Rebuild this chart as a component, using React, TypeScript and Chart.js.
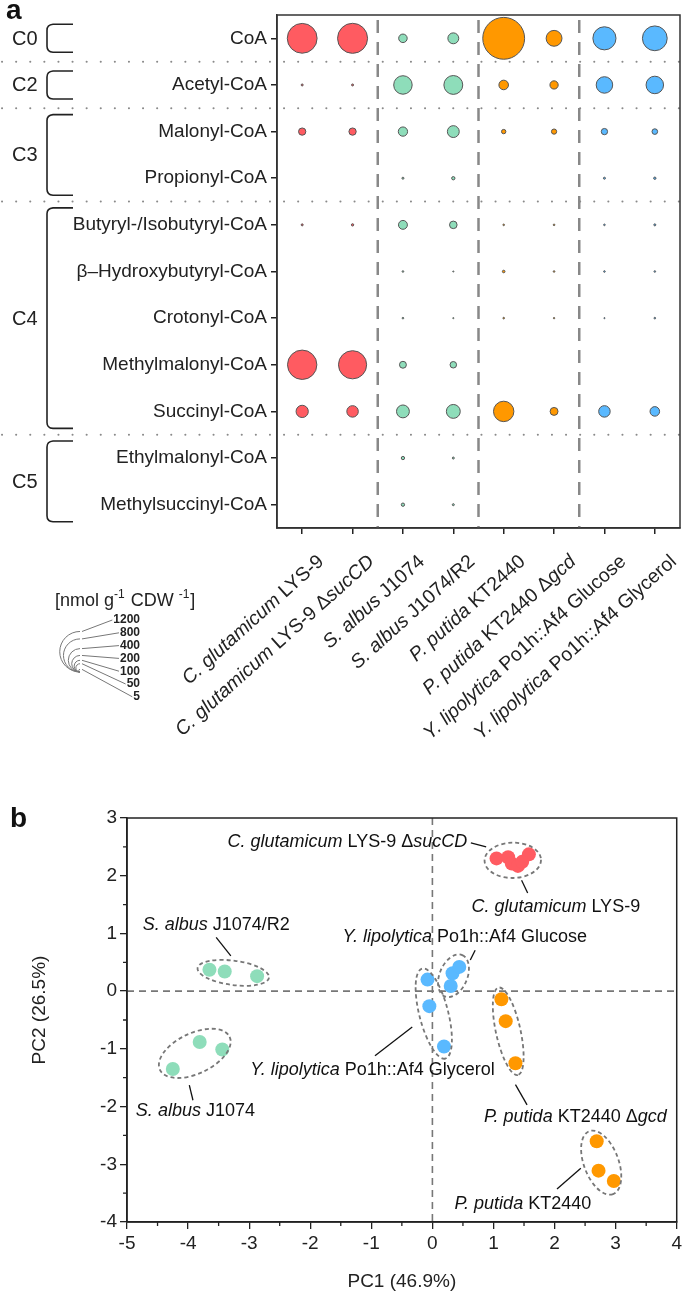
import React, { useEffect, useRef } from "react";
import { Chart, registerables } from "chart.js";
Chart.register(...registerables);

const FONT = "'Liberation Sans', Arial, sans-serif";

// ---------- Panel a data ----------
const metabolites = [
  "CoA",
  "Acetyl-CoA",
  "Malonyl-CoA",
  "Propionyl-CoA",
  "Butyryl-/Isobutyryl-CoA",
  "β–Hydroxybutyryl-CoA",
  "Crotonyl-CoA",
  "Methylmalonyl-CoA",
  "Succinyl-CoA",
  "Ethylmalonyl-CoA",
  "Methylsuccinyl-CoA",
];

const strains = [
  "C. glutamicum LYS-9",
  "C. glutamicum LYS-9 ΔsucCD",
  "S. albus J1074",
  "S. albus J1074/R2",
  "P. putida KT2440",
  "P. putida KT2440 Δgcd",
  "Y. lipolytica Po1h::Af4 Glucose",
  "Y. lipolytica Po1h::Af4 Glycerol",
];

// nmol g-1 CDW-1, in metabolite order
const cgLys9 = [650, 3, 39, 0, 3, 0, 0, 630, 110, 0, 0];
const cgLys9SucCD = [660, 3, 39, 0, 4, 0, 0, 580, 97, 0, 0];
const saJ1074 = [53, 250, 63, 3, 58, 2, 2, 35, 121, 8, 8];
const saJ1074R2 = [87, 260, 103, 8, 42, 1, 1, 31, 141, 3, 3];
const ppKT2440 = [1280, 67, 14, 0, 2, 5, 2, 0, 305, 0, 0];
const ppKT2440Gcd = [184, 50, 20, 0, 2, 2, 1.5, 0, 46, 0, 0];
const ylGlucose = [391, 199, 29, 3, 2, 2, 1, 0, 97, 0, 0];
const ylGlycerol = [449, 224, 23, 4, 3, 2, 2, 0, 67, 0, 0];
const strainValues = [cgLys9, cgLys9SucCD, saJ1074, saJ1074R2, ppKT2440, ppKT2440Gcd, ylGlucose, ylGlycerol];

const groupNames = ["C0", "C2", "C3", "C4", "C5"];
const groupFirst = [0, 1, 2, 4, 9];
const groupLast = [0, 1, 3, 8, 10];
const speciesBreaks = [1, 3, 5]; // dashed line after these strain indices

const sizeLegendValues = [1200, 800, 400, 200, 100, 50, 5];

// ---------- Panel b data ----------
const pc1CgLys9 = [1.3, 1.4, 1.47];
const pc2CgLys9 = [2.21, 2.17, 2.24];
const pc1CgSucCD = [1.05, 1.24, 1.58];
const pc2CgSucCD = [2.3, 2.32, 2.37];
const pc1SaJ1074 = [-4.25, -3.81, -3.44];
const pc2SaJ1074 = [-1.35, -0.88, -1.01];
const pc1SaR2 = [-3.65, -3.4, -2.87];
const pc2SaR2 = [0.37, 0.34, 0.26];
const pc1PpKT = [2.69, 2.72, 2.97];
const pc2PpKT = [-2.6, -3.11, -3.29];
const pc1PpGcd = [1.13, 1.2, 1.36];
const pc2PpGcd = [-0.14, -0.52, -1.25];
const pc1YlGlc = [0.3, 0.33, 0.44];
const pc2YlGlc = [0.09, 0.31, 0.42];
const pc1YlGly = [-0.08, -0.05, 0.19];
const pc2YlGly = [0.2, -0.26, -0.96];
const pc1 = [pc1CgLys9, pc1CgSucCD, pc1SaJ1074, pc1SaR2, pc1PpKT, pc1PpGcd, pc1YlGlc, pc1YlGly];
const pc2 = [pc2CgLys9, pc2CgSucCD, pc2SaJ1074, pc2SaR2, pc2PpKT, pc2PpGcd, pc2YlGlc, pc2YlGly];

const RED = "#FF5B61";
const GREEN = "#8EDDBA";
const ORANGE = "#FF9800";
const BLUE = "#5AB9FF";
const strainColors = [RED, RED, GREEN, GREEN, ORANGE, ORANGE, BLUE, BLUE];

// clusters circled in panel b (strain indices)
const clusters = [[0, 1], [2], [3], [4], [5], [6], [7]];

// label annotations for panel b (data units)
const pcaNotes = [
  { strain: 1, x: 0.57, y: 2.58, align: "right", line: [[0.63, 2.57], [0.88, 2.5]] },
  { strain: 0, x: 2.02, y: 1.45, align: "center", line: [[1.46, 1.92], [1.56, 1.7]] },
  { strain: 3, x: -3.54, y: 1.15, align: "center", line: [[-3.54, 0.93], [-3.3, 0.61]] },
  { strain: 6, x: 0.53, y: 0.94, align: "center", line: [[0.7, 0.71], [0.62, 0.54]] },
  { strain: 7, x: -0.98, y: -1.37, align: "center", line: [[-0.94, -1.12], [-0.33, -0.62]] },
  { strain: 2, x: -3.88, y: -2.08, align: "center", line: [[-3.98, -1.63], [-3.92, -1.89]] },
  { strain: 5, x: 2.34, y: -2.18, align: "center", line: [[1.36, -1.62], [1.55, -1.97]] },
  { strain: 4, x: 1.48, y: -3.68, align: "center", line: [[2.04, -3.43], [2.43, -3.07]] },
];

const radiusOf = (v: number) => 0.585 * Math.sqrt(v);

function segmentsOf(name: string): [string, boolean][] {
  const words = name.split(" ");
  const species = words.slice(0, 2).join(" ");
  const rest = " " + words.slice(2).join(" ");
  const segs: [string, boolean][] = [[species, true]];
  const d = rest.indexOf("Δ");
  if (d >= 0) {
    segs.push([rest.slice(0, d + 1), false]);
    segs.push([rest.slice(d + 1), true]);
  } else {
    segs.push([rest, false]);
  }
  return segs;
}

function drawSegs(ctx: CanvasRenderingContext2D, segs: [string, boolean][], x: number, y: number, size: number, align: string) {
  const widths = segs.map(([t, it]) => {
    ctx.font = `${it ? "italic " : ""}${size}px ${FONT}`;
    return ctx.measureText(t).width;
  });
  const total = widths.reduce((a, b) => a + b, 0);
  let cx = align === "right" ? x - total : align === "center" ? x - total / 2 : x;
  ctx.textAlign = "left";
  segs.forEach(([t, it], i) => {
    ctx.font = `${it ? "italic " : ""}${size}px ${FONT}`;
    ctx.fillText(t, cx, y);
    cx += widths[i];
  });
}

const plugA = {
  id: "panelA",
  beforeDatasetsDraw(chart: any) {
    const { ctx, chartArea: ca, scales } = chart;
    const y = scales.y;
    const x = scales.x;
    ctx.save();
    ctx.strokeStyle = "#8a8a8a";
    ctx.lineWidth = 2;
    ctx.lineCap = "round";
    ctx.setLineDash([0.1, 14]);
    for (let g = 0; g < groupLast.length - 1; g++) {
      const py = (y.getPixelForValue(groupLast[g]) + y.getPixelForValue(groupLast[g] + 1)) / 2;
      ctx.beginPath();
      ctx.moveTo(2, py);
      ctx.lineTo(ca.right, py);
      ctx.stroke();
    }
    ctx.lineCap = "butt";
    ctx.strokeStyle = "#888";
    ctx.lineWidth = 2.5;
    ctx.setLineDash([13, 9]);
    speciesBreaks.forEach((b) => {
      const px = (x.getPixelForValue(b) + x.getPixelForValue(b + 1)) / 2;
      ctx.beginPath();
      ctx.moveTo(px, ca.top + 5);
      ctx.lineTo(px, ca.bottom);
      ctx.stroke();
    });
    ctx.restore();
  },
  afterDraw(chart: any) {
    const { ctx, chartArea: ca, scales } = chart;
    const y = scales.y;
    const x = scales.x;
    ctx.save();
    ctx.setLineDash([]);
    ctx.strokeStyle = "#333";
    ctx.lineWidth = 1.5;
    ctx.strokeRect(ca.left, ca.top, ca.right - ca.left, ca.bottom - ca.top);

    ctx.fillStyle = "#111";
    ctx.textBaseline = "alphabetic";
    ctx.font = `bold 28px ${FONT}`;
    ctx.textAlign = "left";
    ctx.fillText("a", 6, 19);

    // group labels + brackets
    ctx.fillStyle = "#222";
    ctx.strokeStyle = "#222";
    ctx.lineWidth = 1.6;
    ctx.font = `20px ${FONT}`;
    ctx.textBaseline = "middle";
    groupNames.forEach((n, g) => {
      const p1 = y.getPixelForValue(groupFirst[g]);
      const p2 = y.getPixelForValue(groupLast[g]);
      const multi = groupLast[g] > groupFirst[g];
      const t = p1 - (multi ? 17 : 14);
      const b = p2 + (multi ? 17 : 14);
      ctx.fillText(n, 12, (p1 + p2) / 2 + 1);
      ctx.beginPath();
      ctx.moveTo(73, t);
      ctx.lineTo(53, t);
      ctx.quadraticCurveTo(47, t + 0.5, 47, t + 6);
      ctx.lineTo(47, b - 6);
      ctx.quadraticCurveTo(47, b - 0.5, 53, b);
      ctx.lineTo(73, b);
      ctx.stroke();
    });

    // rotated strain labels
    ctx.fillStyle = "#222";
    ctx.textBaseline = "middle";
    strains.forEach((s, i) => {
      const px = x.getPixelForValue(i);
      ctx.save();
      ctx.translate(px + 19, ca.bottom + 31);
      ctx.rotate((-42 * Math.PI) / 180);
      drawSegs(ctx, segmentsOf(s), 0, 0, 19.5, "right");
      ctx.restore();
    });

    // size legend
    ctx.textBaseline = "alphabetic";
    ctx.fillStyle = "#222";
    const lx = 55;
    const ly = 606;
    let cx = lx;
    const parts: [string, boolean][] = [["[nmol g", false], ["-1", true], [" CDW ", false], ["-1", true], ["]", false]];
    parts.forEach(([t, sup]) => {
      ctx.font = sup ? `12px ${FONT}` : `18px ${FONT}`;
      ctx.fillText(t, cx, sup ? ly - 8 : ly);
      cx += ctx.measureText(t).width + (sup ? 1 : 0);
    });
    const ccx = 80;
    const cby = 672;
    ctx.strokeStyle = "#777";
    ctx.lineWidth = 1;
    ctx.font = `bold 12px ${FONT}`;
    ctx.textBaseline = "middle";
    ctx.textAlign = "right";
    sizeLegendValues.forEach((v, i) => {
      const r = radiusOf(v);
      ctx.beginPath();
      ctx.arc(ccx, cby - r, r, -Math.PI / 2, Math.PI / 2, true);
      ctx.stroke();
      const tyy = 620 + i * 12.8;
      const label = String(v);
      const w = ctx.measureText(label).width;
      ctx.beginPath();
      ctx.moveTo(ccx + 2, cby - 2 * r);
      ctx.lineTo(140 - w - 1, tyy);
      ctx.stroke();
      ctx.fillStyle = "#222";
      ctx.fillText(label, 140, tyy);
    });
    ctx.restore();
  },
};

function ellipseFor(points: { x: number; y: number }[], pad: number) {
  const n = points.length;
  const mx = points.reduce((a, p) => a + p.x, 0) / n;
  const my = points.reduce((a, p) => a + p.y, 0) / n;
  let sxx = 0, syy = 0, sxy = 0;
  points.forEach((p) => {
    sxx += (p.x - mx) ** 2;
    syy += (p.y - my) ** 2;
    sxy += (p.x - mx) * (p.y - my);
  });
  const th = 0.5 * Math.atan2(2 * sxy, sxx - syy);
  const c = Math.cos(th), s = Math.sin(th);
  let umin = Infinity, umax = -Infinity, vmin = Infinity, vmax = -Infinity;
  points.forEach((p) => {
    const u = (p.x - mx) * c + (p.y - my) * s;
    const v = -(p.x - mx) * s + (p.y - my) * c;
    umin = Math.min(umin, u); umax = Math.max(umax, u);
    vmin = Math.min(vmin, v); vmax = Math.max(vmax, v);
  });
  const cu = (umin + umax) / 2;
  const cv = (vmin + vmax) / 2;
  const a = (umax - umin) / 2 + pad;
  const b = (vmax - vmin) / 2 + pad;
  return { cx: mx + cu * c - cv * s, cy: my + cu * s + cv * c, a, b, th };
}

const plugB = {
  id: "panelB",
  beforeDatasetsDraw(chart: any) {
    const { ctx, chartArea: ca, scales } = chart;
    const x = scales.x, y = scales.y;
    ctx.save();
    ctx.strokeStyle = "#777";
    ctx.lineWidth = 1.6;
    ctx.setLineDash([7, 5]);
    const x0 = x.getPixelForValue(0);
    const y0 = y.getPixelForValue(0);
    ctx.beginPath();
    ctx.moveTo(ca.left, y0);
    ctx.lineTo(ca.right, y0);
    ctx.moveTo(x0, ca.top);
    ctx.lineTo(x0, ca.bottom);
    ctx.stroke();
    ctx.restore();
  },
  afterDatasetsDraw(chart: any) {
    const { ctx, scales } = chart;
    const x = scales.x, y = scales.y;
    ctx.save();
    ctx.strokeStyle = "#777";
    ctx.lineWidth = 1.8;
    ctx.setLineDash([4, 3]);
    clusters.forEach((members) => {
      const pts: { x: number; y: number }[] = [];
      members.forEach((m) => pc1[m].forEach((v, k) => pts.push({ x: x.getPixelForValue(v), y: y.getPixelForValue(pc2[m][k]) })));
      const e = ellipseFor(pts, 12);
      ctx.beginPath();
      ctx.ellipse(e.cx, e.cy, e.a, e.b, e.th, 0, Math.PI * 2);
      ctx.stroke();
    });
    ctx.setLineDash([]);
    ctx.strokeStyle = "#111";
    ctx.lineWidth = 1.3;
    ctx.fillStyle = "#111";
    ctx.textBaseline = "middle";
    pcaNotes.forEach((n) => {
      drawSegs(ctx, segmentsOf(strains[n.strain]), x.getPixelForValue(n.x), y.getPixelForValue(n.y), 18, n.align);
      ctx.beginPath();
      ctx.moveTo(x.getPixelForValue(n.line[0][0]), y.getPixelForValue(n.line[0][1]));
      ctx.lineTo(x.getPixelForValue(n.line[1][0]), y.getPixelForValue(n.line[1][1]));
      ctx.stroke();
    });
    ctx.restore();
  },
  afterDraw(chart: any) {
    const { ctx, chartArea: ca, scales } = chart;
    const x = scales.x, y = scales.y;
    ctx.save();
    ctx.strokeStyle = "#222";
    ctx.lineWidth = 1.5;
    ctx.strokeRect(ca.left, ca.top, ca.right - ca.left, ca.bottom - ca.top);
    ctx.lineWidth = 1.3;
    ctx.beginPath();
    for (let v = -4.5; v < 4; v += 1) {
      const px = x.getPixelForValue(v);
      ctx.moveTo(px, ca.bottom);
      ctx.lineTo(px, ca.bottom + 4);
    }
    for (let v = -3.5; v < 3; v += 1) {
      const py = y.getPixelForValue(v);
      ctx.moveTo(ca.left, py);
      ctx.lineTo(ca.left - 4, py);
    }
    ctx.stroke();
    ctx.fillStyle = "#222";
    ctx.font = `19px ${FONT}`;
    ctx.textAlign = "center";
    ctx.textBaseline = "middle";
    ctx.fillText("PC1 (46.9%)", (ca.left + ca.right) / 2, 522);
    ctx.save();
    ctx.translate(40, 250);
    ctx.rotate(-Math.PI / 2);
    ctx.fillText("PC2 (26.5%)", 0, 0);
    ctx.restore();
    ctx.fillStyle = "#111";
    ctx.font = `bold 28px ${FONT}`;
    ctx.textAlign = "left";
    ctx.textBaseline = "alphabetic";
    ctx.fillText("b", 10, 67);
    ctx.restore();
  },
};

export default function App() {
  const refA = useRef<HTMLCanvasElement>(null);
  const refB = useRef<HTMLCanvasElement>(null);

  useEffect(() => {
    const chartA = new Chart(refA.current as HTMLCanvasElement, {
      type: "bubble",
      data: {
        datasets: strains.map((s, i) => ({
          label: s,
          data: metabolites
            .map((m, j) => ({ x: s, y: m, r: radiusOf(strainValues[i][j]), v: strainValues[i][j] }))
            .filter((d) => d.v > 0) as any,
          backgroundColor: strainColors[i],
          borderColor: "#555",
          borderWidth: 1,
        })),
      },
      options: {
        animation: false,
        responsive: false,
        events: [],
        layout: { autoPadding: false, padding: { top: 15, right: 5, left: 0, bottom: 0 } },
        plugins: { legend: { display: false }, tooltip: { enabled: false } },
        scales: {
          x: {
            type: "category",
            labels: strains,
            offset: true,
            grid: { display: true, drawOnChartArea: false, drawTicks: true, tickLength: 6, color: "#222", offset: false, lineWidth: 1.5 },
            border: { display: true, color: "#333", width: 1.5 },
            ticks: { callback: () => "", maxRotation: 0, autoSkip: false },
            afterFit: (s: any) => {
              s.height = 760 - 528;
              s.paddingLeft = 0;
              s.paddingRight = 0;
            },
          },
          y: {
            type: "category",
            labels: metabolites,
            offset: true,
            grid: { display: true, drawOnChartArea: false, drawTicks: true, tickLength: 6, color: "#222", offset: false, lineWidth: 1.5 },
            border: { display: true, color: "#333", width: 1.5 },
            ticks: { color: "#222", font: { family: FONT, size: 19 }, padding: 4, autoSkip: false },
            afterFit: (s: any) => {
              s.width = 277;
              s.paddingTop = 0;
              s.paddingBottom = 0;
            },
          },
        },
      } as any,
      plugins: [plugA],
    });

    const chartB = new Chart(refB.current as HTMLCanvasElement, {
      type: "scatter",
      data: {
        datasets: strains.map((s, i) => ({
          label: s,
          data: pc1[i].map((v, k) => ({ x: v, y: pc2[i][k] })),
          backgroundColor: strainColors[i],
          borderWidth: 0,
          pointRadius: 7,
        })),
      },
      options: {
        animation: false,
        responsive: false,
        events: [],
        layout: { padding: { top: 58, right: 5, left: 0, bottom: 0 } },
        plugins: { legend: { display: false }, tooltip: { enabled: false } },
        scales: {
          x: {
            type: "linear",
            min: -5,
            max: 4,
            ticks: { stepSize: 1, color: "#222", font: { family: FONT, size: 19 }, padding: 3 },
            grid: { display: true, drawOnChartArea: false, drawTicks: true, tickLength: 7, color: "#222", lineWidth: 1.3 },
            border: { display: true, color: "#222", width: 1.5 },
            afterFit: (s: any) => {
              s.height = 81;
            },
          },
          y: {
            type: "linear",
            min: -4,
            max: 3,
            ticks: { stepSize: 1, color: "#222", font: { family: FONT, size: 19 }, padding: 3 },
            grid: { display: true, drawOnChartArea: false, drawTicks: true, tickLength: 7, color: "#222", lineWidth: 1.3 },
            border: { display: true, color: "#222", width: 1.5 },
            afterFit: (s: any) => {
              s.width = 127;
            },
          },
        },
      } as any,
      plugins: [plugB],
    });

    return () => {
      chartA.destroy();
      chartB.destroy();
    };
  }, []);

  return (
    <div style={{ position: "absolute", left: 0, top: 0, width: 685, height: 1303, background: "#fff" }}>
      <canvas ref={refA} width={685} height={760} style={{ position: "absolute", left: 0, top: 0, display: "block" }} />
      <canvas ref={refB} width={685} height={543} style={{ position: "absolute", left: 0, top: 760, display: "block" }} />
    </div>
  );
}
